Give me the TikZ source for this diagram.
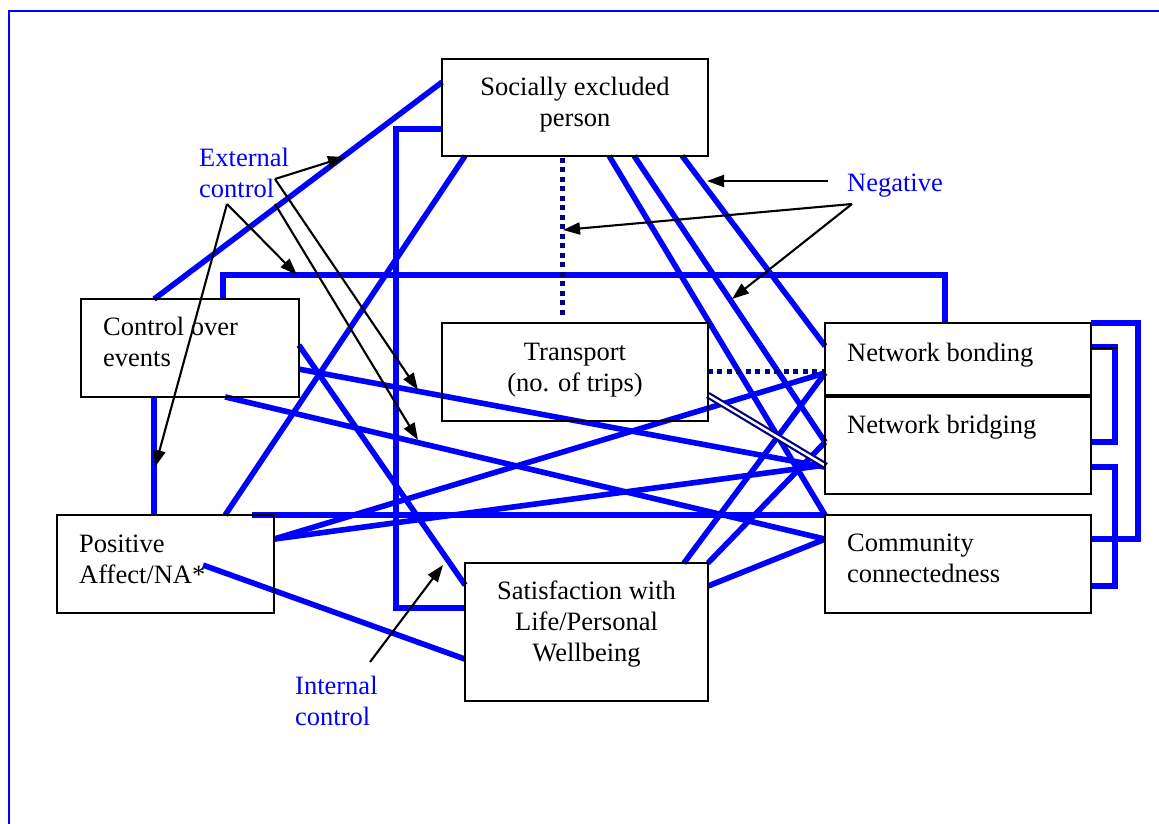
\documentclass[tikz,border=0pt]{standalone}
\usepackage{fontspec}
\setmainfont{Liberation Serif}
\usetikzlibrary{arrows.meta,calc}
\definecolor{bl}{RGB}{0,0,255}
\definecolor{nv}{RGB}{0,0,128}
\begin{document}
\begin{tikzpicture}[x=1pt,y=-1pt,
  box/.style={draw=black, line width=1.8pt, inner sep=0pt},
  txt/.style={font=\fontsize{26.5}{31}\selectfont, inner sep=0pt, anchor=base west},
  ctxt/.style={font=\fontsize{26.5}{31}\selectfont, inner sep=0pt, anchor=base},
  btxt/.style={txt, text=bl},
  bline/.style={draw=bl, line width=5.6pt},
  dline/.style={draw=nv, line width=5pt, dash pattern=on 5pt off 4.5pt},
  dbl/.style={draw=nv, line width=2.2pt, double=white, double distance=2.4pt},
  arr/.style={draw=black, line width=2.1pt, -{Triangle[length=17pt,width=12pt]}}]
\useasboundingbox (0,0) rectangle (1159,824);
\draw[bl, line width=2.2pt] (1170,11) -- (9,11) -- (9,840);

% boxes (named, outlines drawn later on top)
\path node[box, draw=none, minimum width=264pt, minimum height=95pt] (se) at (575,107.5) {};
\path node[box, draw=none, minimum width=216pt, minimum height=96pt] (coe) at (190,348) {};
\path node[box, draw=none, minimum width=264pt, minimum height=96pt] (tr) at (575,372) {};
\path node[box, draw=none, minimum width=264pt, minimum height=72pt] (nbo) at (958,360) {};
\path node[box, draw=none, minimum width=264pt, minimum height=97pt] (nbr) at (958,444.5) {};
\path node[box, draw=none, minimum width=215pt, minimum height=96pt] (pa) at (165.5,564) {};
\path node[box, draw=none, minimum width=264pt, minimum height=96pt] (cc) at (958,564) {};
\path node[box, draw=none, minimum width=241pt, minimum height=136pt] (sat) at (586.5,632) {};

% blue connectors
\draw[bline] ($(coe.north west)+(73,0)$) -- ($(se.north west)+(0,23)$);
\draw[bline] ($(se.north west)+(0,70)$) -- ++(-46,0) |- ($(sat.north west)+(0,45)$);
\draw[bline] ($(se.south west)+(23,0)$) -- ($(pa.north west)+(168,0)$);
\draw[bline] ($(coe.north west)+(142,0)$) -- ++(0,-24) -| ($(nbo.north west)+(120,0)$);
\draw[bline] ($(se.south west)+(167,0)$) -- (cc.north west);
\draw[bline] ($(se.south west)+(192,0)$) -- ($(nbr.north west)+(0,47)$);
\draw[bline] ($(se.south west)+(240,0)$) -- ($(nbo.north west)+(0,23)$);
\draw[bline] ($(coe.north east)+(0,70)$) -- ($(nbr.north west)+(0,72)$);
\draw[bline] ($(coe.south west)+(144,0)$) -- ($(cc.north west)+(0,24)$);
\draw[bline] ($(coe.north east)+(0,46)$) -- ($(sat.north west)+(0,22)$);
\draw[bline] ($(pa.north east)+(0,24)$) -- ($(nbo.south west)+(0,-24)$);
\draw[bline] ($(pa.north east)+(0,24)$) -- ($(nbr.north west)+(0,70)$);
\draw[bline] ($(pa.north east)+(-22,0)$) -- (cc.north west);
\draw[bline] ($(pa.north west)+(146,50)$) -- ($(sat.north west)+(0,96)$);
\draw[bline] ($(sat.north east)+(-24,0)$) -- ($(nbo.south west)+(0,-24)$);
\draw[bline] (sat.north east) -- ($(nbr.north west)+(0,47)$);
\draw[bline] ($(sat.north east)+(0,23)$) -- ($(cc.north west)+(0,24)$);
\draw[bline] ($(coe.south west)+(73,0)$) -- ($(pa.north west)+(97,0)$);
\draw[bline] (nbo.north east) -- ++(47,0) |- ($(cc.north east)+(0,24)$);
\draw[bline] ($(nbo.north east)+(0,24)$) -- ++(24,0) |- ($(nbr.north east)+(0,47)$);
\draw[bline] ($(nbr.north east)+(0,72)$) -- ++(24,0) |- ($(cc.north east)+(0,71)$);
\draw[black, line width=1.6pt] ($(nbo.north east)+(0,25)$) -- ++(26,0);

% navy connectors
\draw[dline] ($(se.south west)+(120,2)$) -- ($(tr.north west)+(120,-4)$);
\draw[dline] ($(tr.north east)+(0,48)$) -- ($(nbo.north west)+(0,48)$);
\draw[dbl] ($(tr.north east)+(0,72)$) -- ($(nbr.north west)+(1,71)$);

% box outlines on top
\foreach \n in {se,coe,tr,nbo,nbr,pa,cc,sat} \draw[black, line width=1.8pt] (\n.north west) rectangle (\n.south east);

% box texts
\node[ctxt] (t-se1) at (575,96) {Socially excluded};
\node[ctxt] (t-se2) at (575,127) {person};
\node[txt] (t-coe1) at (103,335) {Control over};
\node[txt] (t-coe2) at (103,366) {events};
\node[ctxt] (t-tr1) at (575,360) {Transport};
\node[ctxt] (t-tr2) at (575,391) {(no. of trips)};
\node[txt] (t-nbo) at (847,361) {Network bonding};
\node[txt] (t-nbr) at (847,433) {Network bridging};
\node[txt] (t-pa1) at (79,552) {Positive};
\node[txt] (t-pa2) at (79,583) {Affect/NA*};
\node[txt] (t-cc1) at (847,551) {Community};
\node[txt] (t-cc2) at (847,582) {connectedness};
\node[ctxt] (t-sat1) at (586.5,599) {Satisfaction with};
\node[ctxt] (t-sat2) at (586.5,630) {Life/Personal};
\node[ctxt] (t-sat3) at (586.5,661) {Wellbeing};

% blue labels
\node[btxt] (l-ext1) at (199,166) {External};
\node[btxt] (l-ext2) at (199,197) {control};
\node[btxt] (l-neg) at (847,191) {Negative};
\node[btxt] (l-int1) at (295,694) {Internal};
\node[btxt] (l-int2) at (295,725) {control};

% arrow ends
\coordinate (ex1) at (275,179);
\coordinate (ex2) at (275,204);
\coordinate (ex3) at (227,204);
\coordinate (ng1) at (828,181);
\coordinate (ng2) at (852,204);
\coordinate (in1) at (370,662);
\coordinate (a1) at (345,157);
\coordinate (a2) at (418,390);
\coordinate (a3) at (418,440);
\coordinate (a4) at (297,275);
\coordinate (a5) at (155,467);
\coordinate (a6) at (707,181);
\coordinate (a7) at (563,230);
\coordinate (a8) at (732,299);
\coordinate (a9) at (443,565);

\draw[arr] (ex1) -- (a1);
\draw[arr] (ex1) -- (a2);
\draw[arr] (ex2) -- (a3);
\draw[arr] (ex3) -- (a4);
\draw[arr] (ex3) -- (a5);
\draw[arr] (ng1) -- (a6);
\draw[arr] (ng2) -- (a7);
\draw[arr] (ng2) -- (a8);
\draw[arr] (in1) -- (a9);
\end{tikzpicture}
\end{document}
